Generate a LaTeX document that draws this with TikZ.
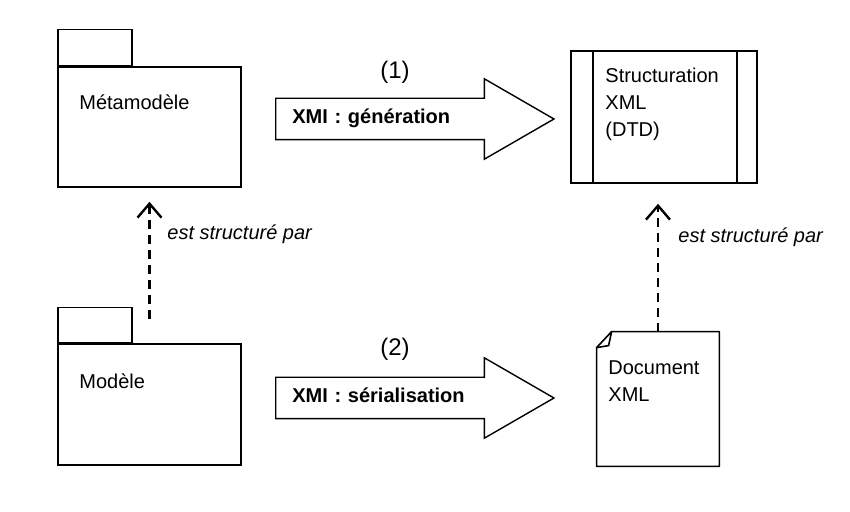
\documentclass[tikz,border=0pt]{standalone}
\usepackage{fontspec}
\setmainfont{Liberation Sans}
\usetikzlibrary{arrows.meta, shapes.arrows}

\begin{document}
\begin{tikzpicture}[x=0.5pt, y=-0.5pt,
  font=\fontsize{10pt}{13.5pt}\selectfont,
  box/.style={draw, line width=0.8pt, inner sep=0pt},
  txt/.style={inner sep=0pt, align=left},
  dep/.style={line width=1.2pt, dash pattern=on 4.5pt off 3pt,
    -{Straight Barb[length=7pt, width=12pt, line width=1.2pt]}},
  xmi/.style={single arrow, draw, line width=0.7pt, anchor=tail,
    single arrow tip angle=60, single arrow head extend=9.75pt,
    text width=104.5pt, inner xsep=8pt, inner ysep=5pt,
    text height=7.5pt, text depth=2.5pt, font=\fontsize{10pt}{12pt}\selectfont\bfseries}]
  \useasboundingbox (0,0) rectangle (850,512);
  % packages
  \node[box, minimum width=91.5pt, minimum height=60pt] (meta) at (149.5,127) {};
  \node[box, minimum width=37pt, minimum height=18pt, anchor=south west] (metatab) at (meta.north west) {};
  \node[txt, anchor=base west] (metaname) at (79,110) {Métamodèle};
  \node[box, minimum width=91.5pt, minimum height=60.5pt] (mod) at (149.5,404.5) {};
  \node[box, minimum width=37pt, minimum height=17.5pt, anchor=south west] (modtab) at (mod.north west) {};
  \node[txt, anchor=base west] (modname) at (79,389) {Modèle};
  % DTD
  \node[box, minimum width=93pt, minimum height=66pt] (dtd) at (664,117) {};
  \draw[line width=0.8pt] ([xshift=11.5pt]dtd.north west) -- ([xshift=11.5pt]dtd.south west);
  \draw[line width=0.8pt] ([xshift=-10.5pt]dtd.north east) -- ([xshift=-10.5pt]dtd.south east);
  \node[txt, anchor=north west] (dtdname) at (605,68) {Structuration\\XML\\(DTD)};
  % document
  \node[inner sep=0pt, minimum width=61pt, minimum height=67pt] (doc) at (658,399) {};
  \draw[line width=0.8pt, line join=round] (doc.south west) -- ([yshift=-8pt]doc.north west)
    -- ([xshift=7.5pt]doc.north west) -- (doc.north east) -- (doc.south east) -- cycle;
  \draw[line width=0.8pt, line join=round] ([yshift=-8pt]doc.north west) -- ++(12,-2)
    -- ([xshift=7.5pt]doc.north west);
  \node[txt, anchor=north west] (docname) at (608,360) {Document\\XML};
  % XMI arrows
  \node[xmi] (gen) at (275,119) {XMI : génération};
  \node[font=\fontsize{12pt}{14pt}\selectfont] (one) at (395,72) {(1)};
  \node[xmi] (ser) at (275,398) {XMI : sérialisation};
  \node[font=\fontsize{12pt}{14pt}\selectfont] (two) at (395,349) {(2)};
  % est structure par
  \draw[dep, shorten <=12pt, shorten >=7pt] (mod.north) -- (meta.south);
  \node[txt, anchor=base west, font=\fontsize{10pt}{12pt}\selectfont\itshape] (lblmeta) at (167,240) {est structuré par};
  \draw[dep, shorten >=10pt] (doc.north) -- (doc.north |- dtd.south);
  \node[txt, anchor=base west, font=\fontsize{10pt}{12pt}\selectfont\itshape] (lbldoc) at (678,243) {est structuré par};
\end{tikzpicture}
\end{document}
